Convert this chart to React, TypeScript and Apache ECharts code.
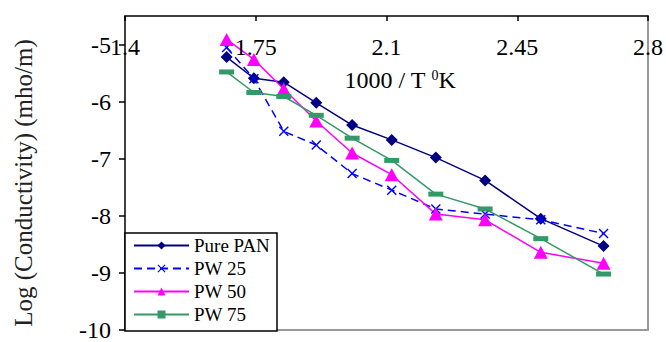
import React, { useEffect, useRef } from "react";
import * as echarts from "echarts";

const invT = [1.672, 1.745, 1.825, 1.912, 2.008, 2.114, 2.232, 2.364, 2.513, 2.681];
const purePani = [-5.22, -5.59, -5.66, -6.02, -6.41, -6.67, -6.98, -7.38, -8.05, -8.53];
const pw25 = [-5.05, -5.6, -6.52, -6.76, -7.26, -7.55, -7.88, -7.97, -8.07, -8.31];
const pw50 = [-4.91, -5.26, -5.78, -6.34, -6.9, -7.28, -7.97, -8.07, -8.64, -8.83];
const pw75 = [-5.48, -5.84, -5.91, -6.24, -6.64, -7.03, -7.62, -7.88, -8.4, -9.02];
const seriesNames = ["Pure PANI", "PW 25", "PW 50", "PW 75"];
const yTicks = [-10, -9, -8, -7, -6, -5];

const FONT = "Times New Roman, Liberation Serif, DejaVu Serif, serif";
const X_PATH =
  "path://M1,0L5,4L9,0L10,1L6,5L10,9L9,10L5,6L1,10L0,9L4,5L0,1Z";

function pairs(ys: number[]) {
  return invT.map((x, i) => [x, ys[i]]);
}

export default function App() {
  const ref = useRef<HTMLDivElement>(null);
  useEffect(() => {
    if (!ref.current) return;
    const chart = echarts.init(ref.current, null, { renderer: "svg" });
    const option: any = {
      animation: false,
      textStyle: { fontFamily: FONT },
      grid: { left: 125, right: 16, top: 16, bottom: 7, containLabel: false },
      xAxis: [
        {
          type: "value",
          position: "top",
          min: 1.4,
          max: 2.8,
          interval: 0.35,
          axisLine: { show: true, onZero: false, lineStyle: { color: "#000", width: 1.5 } },
          axisTick: { show: true, inside: true, length: 5, lineStyle: { color: "#000", width: 1.5 } },
          axisLabel: {
            inside: true,
            margin: 19,
            fontFamily: FONT,
            fontSize: 24,
            color: "#000",
            formatter: (v: number) => String(Math.round(v * 100) / 100),
          },
          splitLine: { show: false },
          z: 5,
        },
        {
          type: "value",
          position: "bottom",
          min: 1.4,
          max: 2.8,
          axisLine: { show: true, onZero: false, lineStyle: { color: "#999", width: 2 } },
          axisTick: { show: false },
          axisLabel: { show: false },
          splitLine: { show: false },
        },
      ],
      yAxis: [
        {
          type: "value",
          min: -10,
          max: -4.5,
          interval: 1,
          axisLine: { show: true, onZero: false, lineStyle: { color: "#000", width: 1.5 } },
          axisTick: { show: true, length: 6, customValues: yTicks, lineStyle: { color: "#000", width: 1.5 } },
          axisLabel: {
            margin: 14,
            fontFamily: FONT,
            fontSize: 24,
            color: "#000",
            customValues: yTicks,
          },
          splitLine: { show: false },
          z: 5,
        },
        {
          type: "value",
          position: "right",
          min: -10,
          max: -4.5,
          axisLine: { show: true, onZero: false, lineStyle: { color: "#999", width: 2 } },
          axisTick: { show: false },
          axisLabel: { show: false },
          splitLine: { show: false },
        },
      ],
      legend: {
        show: true,
        orient: "vertical",
        left: 125,
        top: 233,
        itemWidth: 55,
        itemHeight: 10,
        itemGap: 4,
        padding: [3, 3, 7, 8],
        borderColor: "#000",
        borderWidth: 1.5,
        backgroundColor: "#fff",
        z: 10,
        textStyle: {
          fontFamily: FONT,
          fontSize: 19,
          color: "#000",
          width: 80,
          overflow: "truncate",
          ellipsis: "",
          lineHeight: 18,
        },
        data: seriesNames,
      },
      graphic: [
        {
          type: "text",
          x: 400,
          y: 80,
          style: {
            text: "1000 / T {sup|0}K",
            fontFamily: FONT,
            fontSize: 24,
            fill: "#000",
            align: "center",
            verticalAlign: "middle",
            rich: {
              sup: { fontSize: 14, fontFamily: FONT, verticalAlign: "top", lineHeight: 24 },
            },
          },
        },
        {
          type: "text",
          x: 23,
          y: 183,
          rotation: Math.PI / 2,
          style: {
            text: "Log (Conductivity) (mho/m)",
            fontFamily: FONT,
            fontSize: 25,
            fill: "#222",
            align: "center",
            verticalAlign: "middle",
          },
        },
      ],
      series: [
        {
          name: seriesNames[0],
          type: "line",
          data: pairs(purePani),
          symbol: "diamond",
          symbolSize: 12,
          itemStyle: { color: "#000080" },
          lineStyle: { color: "#000080", width: 1.5 },
        },
        {
          name: seriesNames[1],
          type: "line",
          data: pairs(pw25),
          symbol: X_PATH,
          symbolSize: 10,
          itemStyle: { color: "#0000ff" },
          lineStyle: { color: "#0000ff", width: 1.5, type: [8, 5] },
        },
        {
          name: seriesNames[2],
          type: "line",
          data: pairs(pw50),
          symbol: "triangle",
          symbolSize: [14, 13],
          itemStyle: { color: "#ff00ff" },
          lineStyle: { color: "#ff00ff", width: 1.5 },
        },
        {
          name: seriesNames[3],
          type: "line",
          data: pairs(pw75),
          symbol: "rect",
          symbolSize: [15, 5],
          itemStyle: { color: "#339966" },
          lineStyle: { color: "#339966", width: 1.5 },
        },
      ],
    };
    chart.setOption(option);
    return () => chart.dispose();
  }, []);
  return <div ref={ref} style={{ width: 666, height: 342, position: "absolute", left: 0, top: 0 }} />;
}
